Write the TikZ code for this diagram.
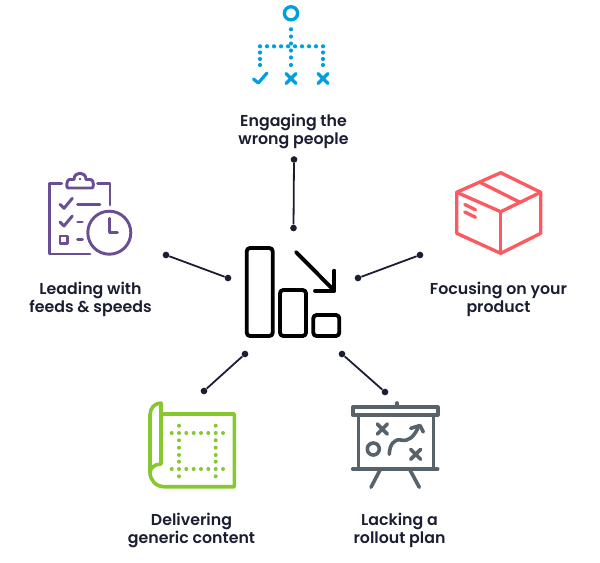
\documentclass[tikz,border=0pt]{standalone}
\usepackage{fontspec}
\setmainfont{Poppins}[UprightFont=* SemiBold,BoldFont=* Bold]
\definecolor{navy}{HTML}{1B1D33}
\definecolor{cblue}{HTML}{00A0E0}
\definecolor{cpurple}{HTML}{694E94}
\definecolor{cred}{HTML}{FC5A60}
\definecolor{cgreen}{HTML}{86C82E}
\definecolor{cgrey}{HTML}{57626B}
\tikzset{
  icon/.style={line width=2.4pt,line cap=round,line join=round},
  thin icon/.style={line width=2.2pt,line cap=round,line join=round},
  label/.style={font=\fontsize{11.85pt}{13.5pt}\selectfont,text=navy,align=center,inner sep=0pt},
  dotend/.style={circle,fill=navy,minimum size=5pt,inner sep=0pt},
  link/.style={navy,line width=1.35pt},
}
\newcommand{\crossmark}[3]{\draw[#3] (#1-5,#2-5) -- (#1+5,#2+5) (#1-5,#2+5) -- (#1+5,#2-5);}
\begin{document}
\begin{tikzpicture}[x=0.75pt,y=-0.75pt]
\useasboundingbox (0,0) rectangle (600,562);
% connectors
\node[dotend] (a1) at (294,159.5) {}; \node[dotend] (a2) at (293.5,228) {};
\node[dotend] (b1) at (166,255) {}; \node[dotend] (b2) at (228,278) {};
\node[dotend] (c1) at (420,255) {}; \node[dotend] (c2) at (358,278) {};
\node[dotend] (d1) at (245,354) {}; \node[dotend] (d2) at (204,391) {};
\node[dotend] (e1) at (342,354) {}; \node[dotend] (e2) at (385,392) {};
\draw[link] (a1) -- (a2); \draw[link] (b1) -- (b2); \draw[link] (c1) -- (c2);
\draw[link] (d1) -- (d2); \draw[link] (e1) -- (e2);
% labels
\node[label] (l1) at (293.5,131) {Engaging the\\wrong people};
\node[label] (l2) at (90.5,299) {Leading with\\feeds \& speeds};
\node[label] (l3) at (498.5,299) {Focusing on your\\product};
\node[label] (l4) at (191.5,530) {Delivering\\generic content};
\node[label] (l5) at (399.5,530) {Lacking a\\rollout plan};
% centre icon
\begin{scope}[line width=2.9pt,line cap=round,line join=round,black]
\draw[rounded corners=2.5pt] (246.7,248) rectangle (272.7,336);
\draw[rounded corners=2.5pt] (280,290) rectangle (306,336);
\draw[rounded corners=2.5pt] (313.3,315) rectangle (339.3,336);
\draw (296,252) -- (334.3,290.7);
\draw (334.3,270.7) -- (334.3,290.7) -- (315,290.7);
\end{scope}
% blue icon
\draw[cblue,line width=2.5pt] (291,13.3) circle[radius=6.6];
\foreach \y in {29.3,36.5,43.5,50.5,57.5,65} \fill[cblue] (291,\y) circle[radius=2.1];
\foreach \x in {260,267,274,281,288,295,302,309,316,323} \fill[cblue] (\x,46.3) circle[radius=2.1];
\foreach \y in {52.5,59,65} {\fill[cblue] (260,\y) circle[radius=2.1]; \fill[cblue] (323,\y) circle[radius=2.1];}
\draw[icon,cblue] (253.5,79) -- (258.3,83) -- (267,73);
\crossmark{291}{78.5}{icon,cblue}
\crossmark{323}{78.5}{icon,cblue}
% purple icon
\begin{scope}[thin icon,cpurple]
\draw (61.7,183.3) -- (49.5,183.3) -- (49.5,254) -- (90,254);
\draw (97.7,183.3) -- (110,183.3) -- (110,205);
\draw (68,188) .. controls (66,188) and (66.5,180.5) .. (69,179.5) -- (74,179.5) .. controls (74,171) and (86,171) .. (86,179.5) -- (91,179.5) .. controls (94,180.5) and (94,188) .. (92,188) -- cycle;
\draw (109.3,232.7) circle[radius=21.5];
\draw (109.3,218.3) -- (109.3,232.3) -- (117.3,232.3);
\draw (60,204.3) -- (64,208.3) -- (72.3,198.3);
\draw (60,222) -- (64,226) -- (72.3,216);
\draw (77.7,204.3) -- (100,204.3);
\draw (77.7,222) -- (82.3,222);
\draw (77.7,239.3) -- (82.3,239.3);
\draw (60,236) rectangle (67.7,243.3);
\end{scope}
\fill[cpurple] (80,179) circle[radius=1.3];
% red icon
\begin{scope}[thin icon,cred,line width=2.5pt]
\draw (500.7,172.7) -- (540.7,192.3) -- (540.7,233.3) -- (500.7,253.3) -- (456.7,233.3) -- (456.7,192.3) -- cycle;
\draw (456.7,192.3) -- (500.7,211.7) -- (540.7,192.3);
\draw (500.7,211.7) -- (500.7,253.3);
\draw (480.7,182.7) -- (520,202.3);
\draw (464.8,204.5) -- (475.5,209.8);
\draw (464.8,212) -- (475.5,217.3);
\end{scope}
% green icon
\begin{scope}[thin icon,cgreen,line width=2.7pt]
\draw (161.5,414) -- (234.3,414) -- (234.3,486.7) -- (164,486.7)
  .. controls (156,486.7) and (150,480) .. (150,472.5) -- (150,415)
  .. controls (150,408) and (155,403) .. (161,403) -- (161,464)
  .. controls (155,464) and (150,468) .. (150,472.5);
\end{scope}
\foreach \x in {171.7,179,186.3,193.7,201,208.3,215.7,223} {\fill[cgreen] (\x,433) circle[radius=2]; \fill[cgreen] (\x,469) circle[radius=2];}
\foreach \y in {425.7,440.3,447.7,455,461.7,476.3} {\fill[cgreen] (179,\y) circle[radius=2]; \fill[cgreen] (215.7,\y) circle[radius=2];}
% grey icon
\begin{scope}[thin icon,cgrey,line width=2.7pt]
\draw (352.7,407) rectangle (437.7,415);
\draw (396.7,403) -- (396.7,407);
\draw (358.3,415) -- (358.3,469) (433.3,415) -- (433.3,469);
\draw (352.7,469) -- (437.7,469);
\draw (380,470) -- (371,487.3) (410,470) -- (419.3,487.3);
\draw (373.3,449) circle[radius=6];
\draw (389.3,454.3) .. controls (389.5,445) and (394,438.5) .. (401,440) .. controls (409,442) and (414,436) .. (418,428);
\draw (410.7,428.3) -- (420,425.5) -- (423.3,432);
\end{scope}
\crossmark{382.3}{429}{thin icon,cgrey,line width=2.7pt}
\crossmark{415.7}{454.3}{thin icon,cgrey,line width=2.7pt}
\end{tikzpicture}
\end{document}
